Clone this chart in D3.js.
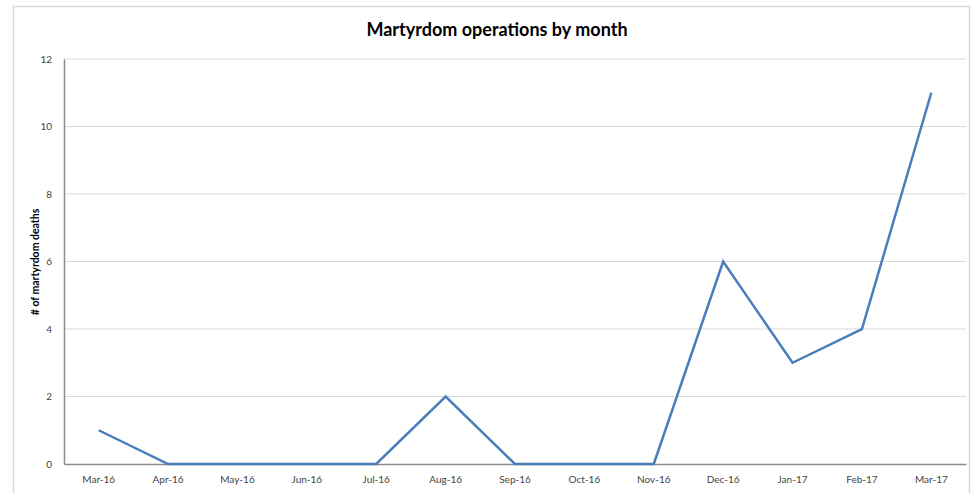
<!DOCTYPE html>
<html><head><meta charset="utf-8">
<script src="https://cdn.jsdelivr.net/npm/d3@7"></script>
<style>body{margin:0;background:#fff;} text{font-family:Lato,"Open Sans",sans-serif;}</style>
</head><body>
<svg id="c" width="980" height="493"></svg>
<script>
const months = ["Mar-16","Apr-16","May-16","Jun-16","Jul-16","Aug-16","Sep-16","Oct-16","Nov-16","Dec-16","Jan-17","Feb-17","Mar-17"];
const deaths = [1,0,0,0,0,2,0,0,0,6,3,4,11];
const yTicks = [0,2,4,6,8,10,12];
const title = "Martyrdom operations by month";
const yTitle = "# of martyrdom deaths";

const svg = d3.select("#c");
const m = {left:64, right:966, top:59, bottom:464};
// outer border
svg.append("rect").attr("x",13.5).attr("y",6.5).attr("width",956).attr("height",500)
  .attr("fill","none").attr("stroke","#d9d9d9").attr("stroke-width",1.5);

const x = d3.scaleBand().domain(months).range([m.left,m.right]);
const y = d3.scaleLinear().domain([0,12]).range([m.bottom,m.top]);

// gridlines
svg.append("g").selectAll("line").data(yTicks.filter(d=>d>0)).join("line")
  .attr("x1",m.left).attr("x2",m.right).attr("y1",d=>y(d)).attr("y2",d=>y(d))
  .attr("stroke","#d9d9d9").attr("stroke-width",1);

// y axis
const ya = svg.append("g").attr("transform",`translate(${m.left},0)`)
  .call(d3.axisLeft(y).tickValues(yTicks).tickSize(0).tickPadding(12));
ya.select(".domain").attr("stroke","#8c8c8c").attr("stroke-width",1.5);
ya.selectAll("text").attr("font-size",10).attr("fill","#444");

// x axis
const xa = svg.append("g").attr("transform",`translate(0,${m.bottom})`)
  .call(d3.axisBottom(x).tickSize(0).tickPadding(12));
xa.select(".domain").attr("stroke","#8c8c8c").attr("stroke-width",1.5);
xa.selectAll("text").attr("font-size",10).attr("fill","#444");

// line
const line = d3.line().x((d,i)=>x(months[i])+x.bandwidth()/2).y(d=>y(d));
svg.append("path").datum(deaths).attr("d",line).attr("fill","none")
  .attr("stroke","#4a7ebb").attr("stroke-width",2.5).attr("stroke-linejoin","miter");

// title
svg.append("text").attr("x",497).attr("y",36).attr("text-anchor","middle")
  .attr("font-size",18).attr("font-weight","bold").attr("fill","#000").text(title);

// y title
svg.append("text").attr("transform","translate(39,262) rotate(-90)").attr("text-anchor","middle")
  .attr("font-size",10.5).attr("font-weight","bold").attr("fill","#000").text(yTitle);
</script>
</body></html>
